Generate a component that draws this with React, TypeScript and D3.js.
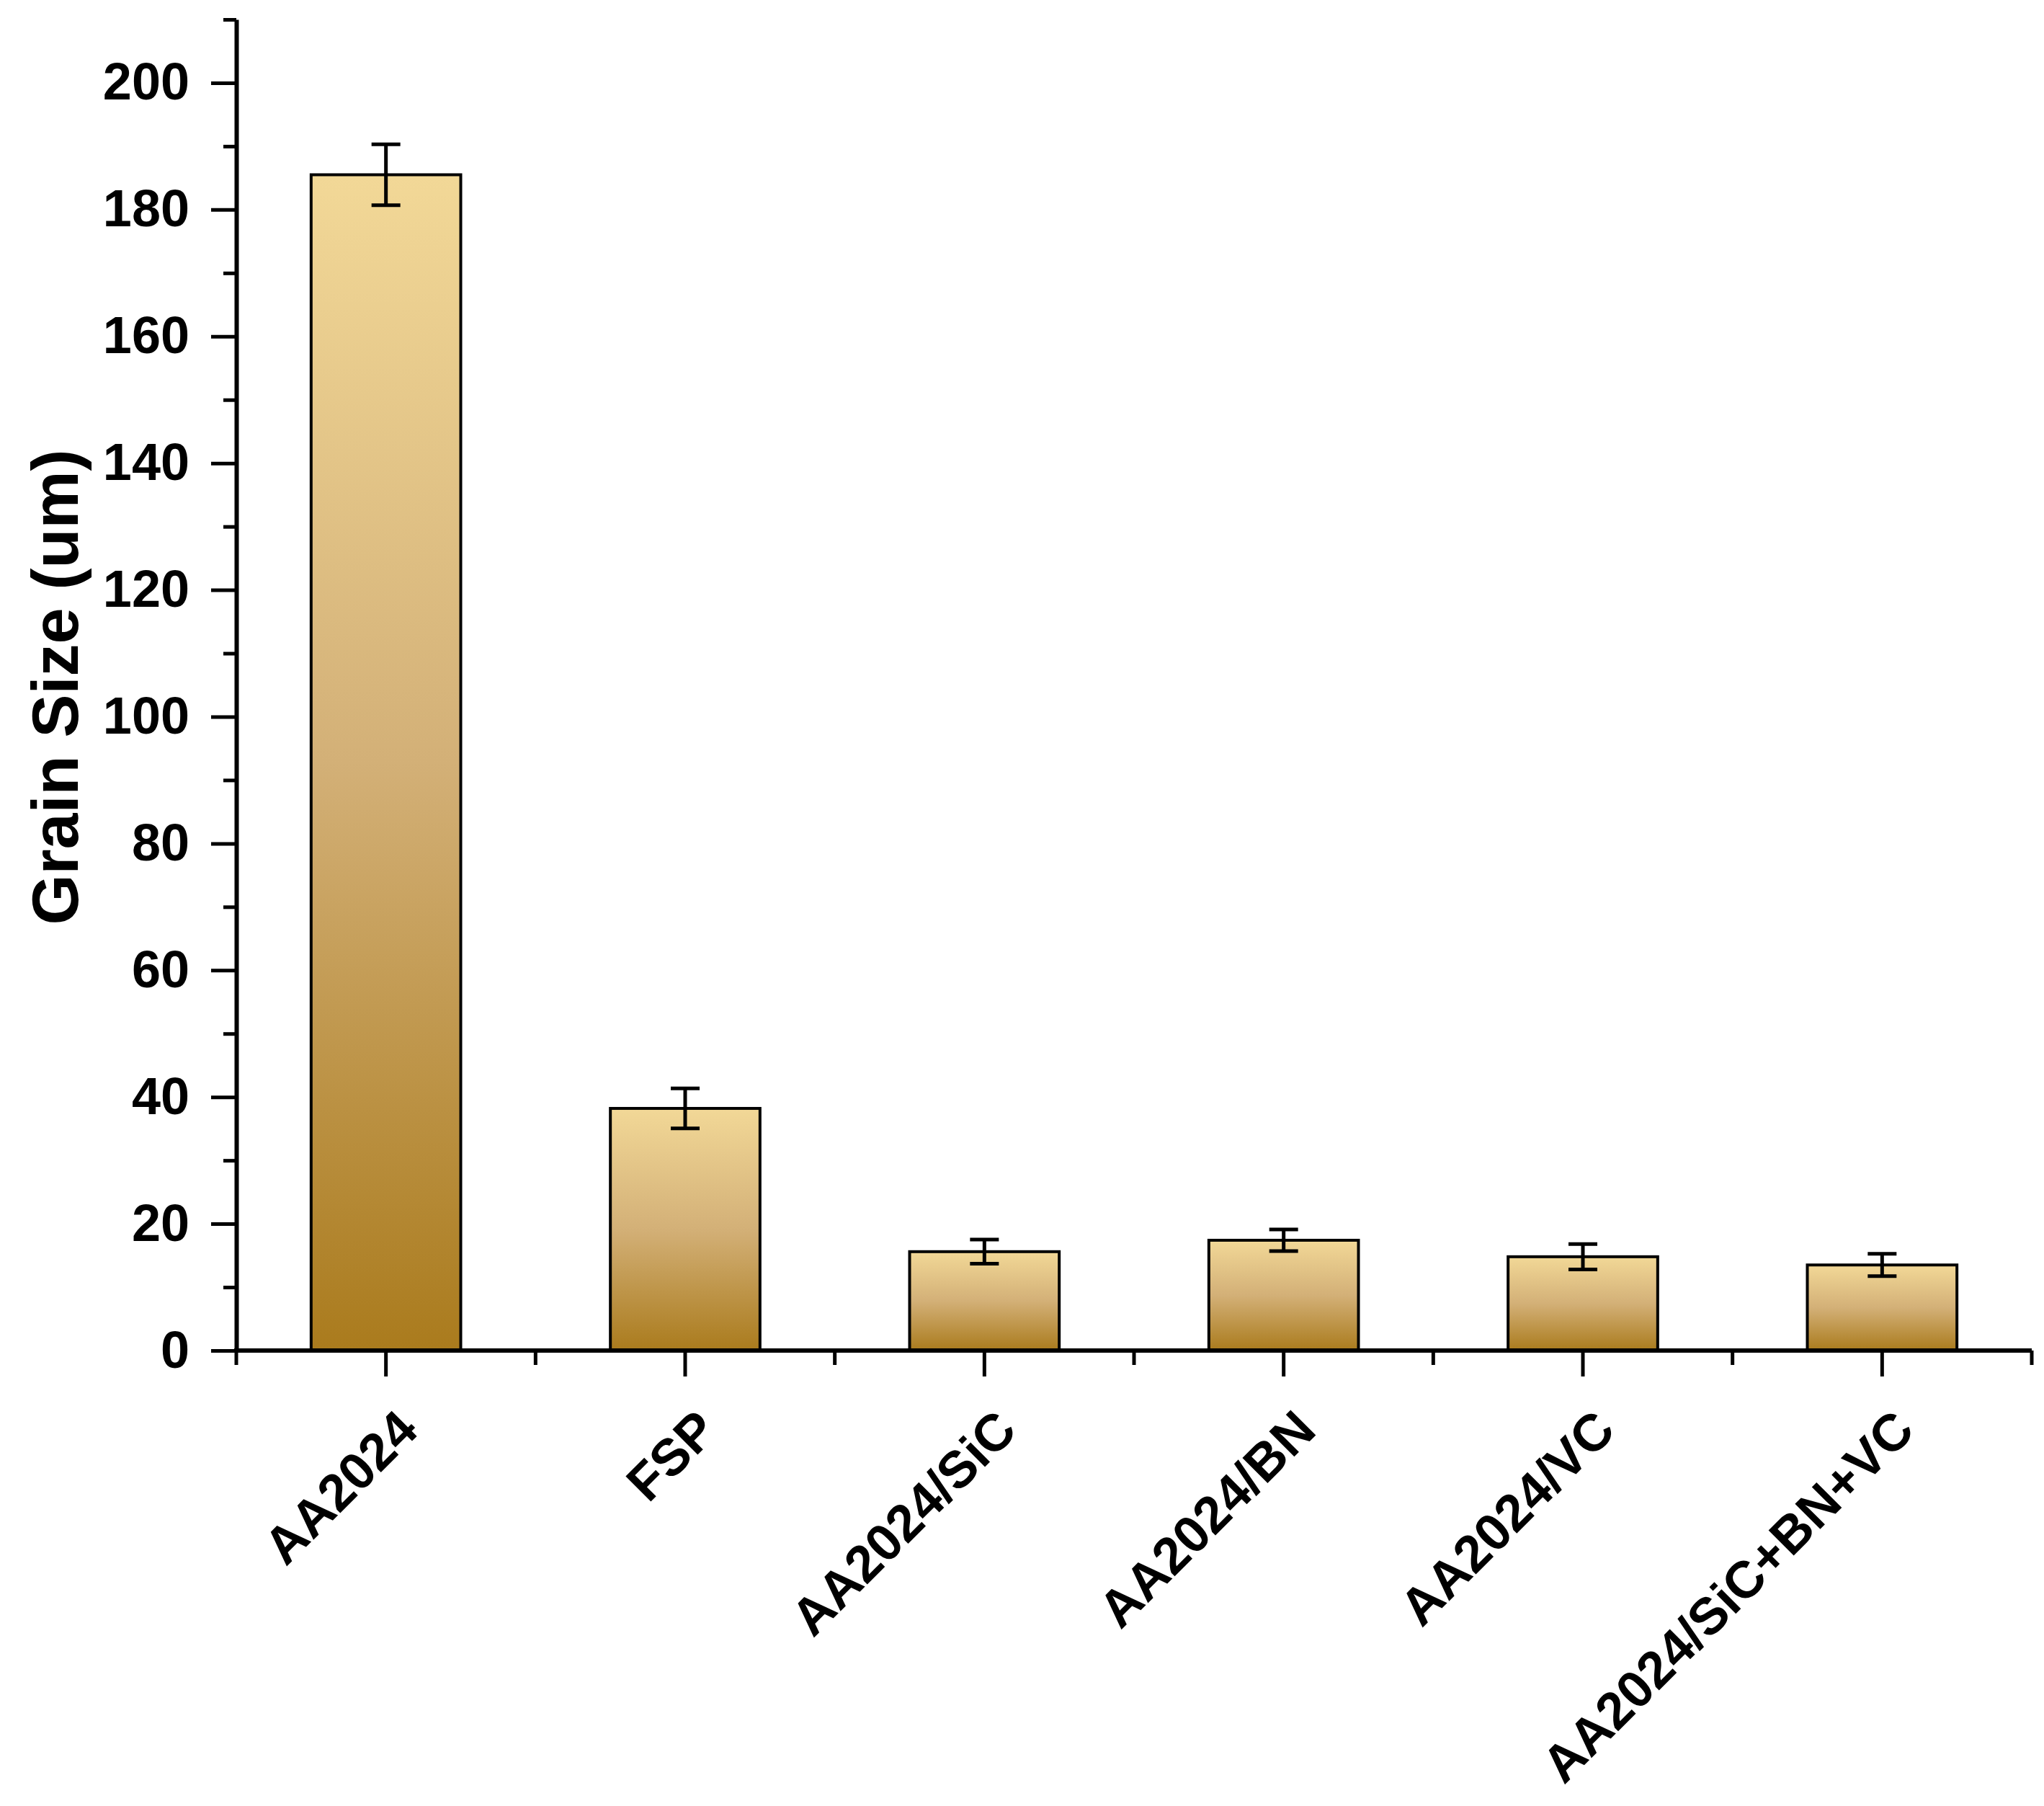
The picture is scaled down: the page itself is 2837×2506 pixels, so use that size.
import React, { useRef, useEffect } from 'react';
import * as d3 from 'd3';

// categories and measured grain sizes (um) with their error bars
const categories = ['AA2024', 'FSP', 'AA2024/SiC', 'AA2024/BN', 'AA2024/VC', 'AA2024/SiC+BN+VC'];
const grainSize = [185.5, 38.2, 15.6, 17.4, 14.8, 13.5];
const grainError = [4.8, 3.15, 1.9, 1.7, 2.0, 1.75];
const yMajorTicks = [0, 20, 40, 60, 80, 100, 120, 140, 160, 180, 200];
const yMinorTicks = [10, 30, 50, 70, 90, 110, 130, 150, 170, 190, 210];

const App = () => {
    const svgRef = useRef<SVGSVGElement>(null);

    useEffect(() => {
        const svg = d3.select(svgRef.current);
        svg.selectAll('*').remove();

        const width = 2837;
        const height = 2506;
        const margin = { left: 328, right: 17, top: 27, bottom: 632 };
        const font = '"Liberation Sans", Arial, sans-serif';

        const x = d3.scaleBand()
            .domain(categories)
            .range([margin.left, width - margin.right])
            .paddingInner(0.5)
            .paddingOuter(0.25);

        const y = d3.scaleLinear()
            .domain([0, 210])
            .range([height - margin.bottom, margin.top]);

        // gradient used by every bar (light top, dark bottom)
        const defs = svg.append('defs');
        const grad = defs.append('linearGradient')
            .attr('id', 'barGrad')
            .attr('x1', 0).attr('y1', 0).attr('x2', 0).attr('y2', 1);
        grad.append('stop').attr('offset', '0%').attr('stop-color', '#f2d897');
        grad.append('stop').attr('offset', '50%').attr('stop-color', '#d3b077');
        grad.append('stop').attr('offset', '100%').attr('stop-color', '#aa7b1d');

        // bars
        svg.append('g')
            .selectAll('rect')
            .data(grainSize)
            .join('rect')
            .attr('x', (d, i) => x(categories[i]))
            .attr('y', d => y(d))
            .attr('width', x.bandwidth())
            .attr('height', d => y(0) - y(d))
            .attr('fill', 'url(#barGrad)')
            .attr('stroke', '#000')
            .attr('stroke-width', 4);

        // error bars
        const capHalf = 20;
        const err = svg.append('g')
            .attr('stroke', '#000')
            .attr('stroke-width', 5)
            .selectAll('g')
            .data(grainSize)
            .join('g')
            .attr('transform', (d, i) => `translate(${x(categories[i]) + x.bandwidth() / 2},0)`);
        err.append('line')
            .attr('y1', (d, i) => y(d + grainError[i]))
            .attr('y2', (d, i) => y(d - grainError[i]));
        err.append('line')
            .attr('x1', -capHalf).attr('x2', capHalf)
            .attr('y1', (d, i) => y(d + grainError[i]))
            .attr('y2', (d, i) => y(d + grainError[i]));
        err.append('line')
            .attr('x1', -capHalf).attr('x2', capHalf)
            .attr('y1', (d, i) => y(d - grainError[i]))
            .attr('y2', (d, i) => y(d - grainError[i]));

        // y axis, minor ticks
        svg.append('g')
            .attr('transform', `translate(${margin.left},0)`)
            .call(d3.axisLeft(y).tickValues(yMinorTicks).tickSize(18).tickFormat(() => '').tickSizeOuter(0))
            .call(g => g.select('.domain').remove())
            .call(g => g.selectAll('line').attr('stroke-width', 5));

        // y axis, major ticks + labels
        svg.append('g')
            .attr('transform', `translate(${margin.left},0)`)
            .call(d3.axisLeft(y).tickValues(yMajorTicks).tickSize(35).tickPadding(30).tickSizeOuter(0))
            .call(g => g.select('.domain').attr('stroke-width', 6))
            .call(g => g.selectAll('line').attr('stroke-width', 5))
            .call(g => g.selectAll('text')
                .attr('font-family', font)
                .attr('font-weight', 'bold')
                .attr('font-size', 72)
                .attr('fill', '#000'));

        // x axis: line, major ticks at bar centres, minor at band edges
        const step = x.step();
        const edges = d3.range(categories.length + 1).map(i => margin.left + i * step);
        const xAxis = svg.append('g').attr('stroke', '#000');
        xAxis.append('line')
            .attr('x1', margin.left - 3).attr('x2', width - margin.right)
            .attr('y1', y(0)).attr('y2', y(0))
            .attr('stroke-width', 6);
        xAxis.selectAll('line.minor')
            .data(edges)
            .join('line')
            .attr('class', 'minor')
            .attr('x1', d => d).attr('x2', d => d)
            .attr('y1', y(0)).attr('y2', y(0) + 20)
            .attr('stroke-width', 5);
        xAxis.selectAll('line.major')
            .data(categories)
            .join('line')
            .attr('class', 'major')
            .attr('x1', d => x(d) + x.bandwidth() / 2).attr('x2', d => x(d) + x.bandwidth() / 2)
            .attr('y1', y(0)).attr('y2', y(0) + 36)
            .attr('stroke-width', 5);

        // rotated category labels
        svg.append('g')
            .selectAll('text')
            .data(categories)
            .join('text')
            .attr('transform', d => `translate(${x(d) + x.bandwidth() / 2 + 48},${y(0) + 114}) rotate(-45)`)
            .attr('text-anchor', 'end')
            .attr('font-family', font)
            .attr('font-weight', 'bold')
            .attr('font-size', 72)
            .text(d => d);

        // y axis title
        svg.append('text')
            .attr('transform', `translate(108,${(y(0) + y(210)) / 2 + 3}) rotate(-90)`)
            .attr('text-anchor', 'middle')
            .attr('font-family', font)
            .attr('font-weight', 'bold')
            .attr('font-size', 90)
            .text('Grain Size (um)');
    }, []);

    return (
        <svg
            ref={svgRef}
            width={2837}
            height={2506}
            style={{ position: 'absolute', left: 0, top: 0, background: '#fff' }}
        />
    );
};

export default App;
